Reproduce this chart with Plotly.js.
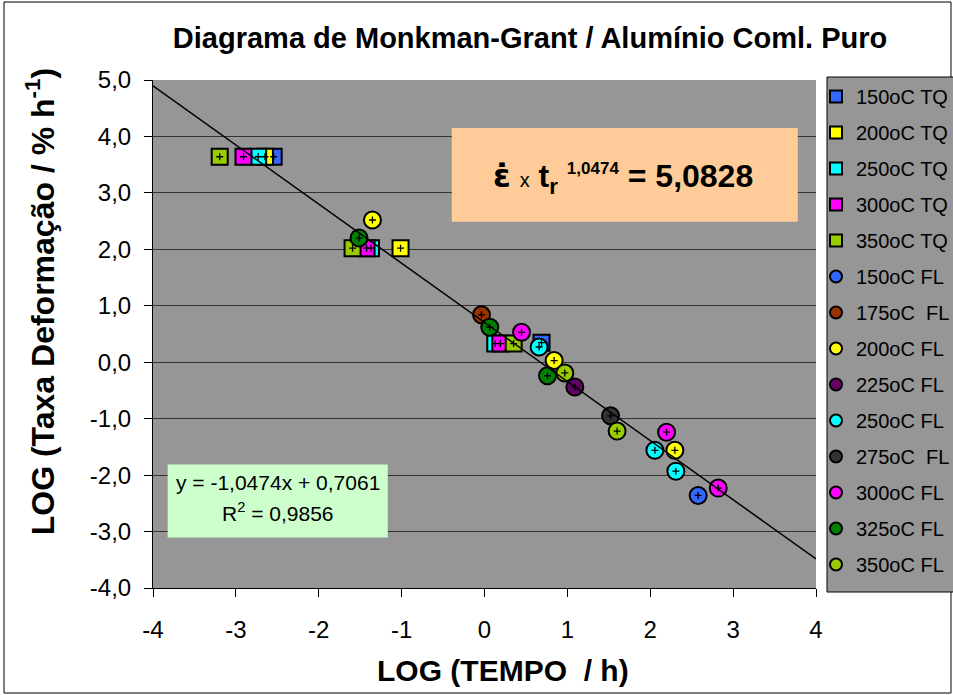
<!DOCTYPE html>
<html>
<head>
<meta charset="utf-8">
<script src="https://cdn.plot.ly/plotly-3.0.1.min.js"></script>
<style>
  html, body { margin: 0; padding: 0; background: #ffffff; overflow: hidden; }
  #wrap { width: 953px; height: 695px; overflow: hidden; position: relative; }
  #chart { width: 990px; height: 695px; }
</style>
</head>
<body>
<div id="wrap"><div id="chart"></div></div>
<script>
// ---- Data ----
const seriesNames = ["150oC TQ", "200oC TQ", "250oC TQ", "300oC TQ", "350oC TQ",
  "150oC FL", "175oC\u00a0 FL", "200oC FL", "225oC FL", "250oC FL",
  "275oC\u00a0 FL", "300oC FL", "325oC FL", "350oC FL"];
const seriesColors = ["#3366FF", "#FFFF00", "#00FFFF", "#FF00FF", "#99CC00",
  "#3366FF", "#993300", "#FFFF00", "#660066", "#00FFFF",
  "#333333", "#FF00FF", "#008000", "#99CC00"];
const seriesSymbols = ["square", "square", "square", "square", "square",
  "circle", "circle", "circle", "circle", "circle",
  "circle", "circle", "circle", "circle"];

const x150TQ = [-2.544, 0.688];
const y150TQ = [3.64, 0.347];
const x200TQ = [-2.649, -1.013];
const y200TQ = [3.64, 2.02];
const x250TQ = [-2.731, -1.370, 0.130];
const y250TQ = [3.64, 2.02, 0.33];
const x300TQ = [-2.908, -1.423, 0.191];
const y300TQ = [3.64, 2.02, 0.33];
const x350TQ = [-3.195, -1.592, 0.352];
const y350TQ = [3.64, 2.02, 0.33];
const x150FL = [2.578];
const y150FL = [-2.36];
const x175FL = [-0.036];
const y175FL = [0.84];
const x200FL = [-1.352, 0.840, 2.297];
const y200FL = [2.52, 0.03, -1.56];
const x225FL = [1.090];
const y225FL = [-0.44];
const x250FL = [0.659, 2.056, 2.309];
const y250FL = [0.27, -1.56, -1.93];
const x275FL = [1.521];
const y275FL = [-0.95];
const x300FL = [0.447, 2.197, 2.820];
const y300FL = [0.53, -1.24, -2.23];
const x325FL = [-1.514, 0.064, 0.760];
const y325FL = [2.20, 0.62, -0.24];
const x350FL = [0.969, 1.600];
const y350FL = [-0.19, -1.22];

const seriesX = [x150TQ, x200TQ, x250TQ, x300TQ, x350TQ, x150FL, x175FL, x200FL, x225FL, x250FL, x275FL, x300FL, x325FL, x350FL];
const seriesY = [y150TQ, y200TQ, y250TQ, y300TQ, y350TQ, y150FL, y175FL, y200FL, y225FL, y250FL, y275FL, y300FL, y325FL, y350FL];

// Linear trend line (from the chart's equation)
const trendSlope = -1.0474;
const trendIntercept = 0.7061;
const trendX = [-4, 4];

const xTicks = [-4, -3, -2, -1, 0, 1, 2, 3, 4];
const xTickText = ["-4", "-3", "-2", "-1", "0", "1", "2", "3", "4"];
const yTicks = [-4, -3, -2, -1, 0, 1, 2, 3, 4, 5];
const yTickText = ["-4,0", "-3,0", "-2,0", "-1,0", "0,0", "1,0", "2,0", "3,0", "4,0", "5,0"];

// ---- Build traces ----
const FONT = "Liberation Sans, Arial, Helvetica, sans-serif";
const traces = seriesNames.map((name, i) => ({
  type: "scatter",
  mode: "markers",
  name: name,
  legendgroup: "g" + i,
  x: seriesX[i],
  y: seriesY[i],
  marker: {
    symbol: seriesSymbols[i],
    size: seriesSymbols[i] === "square" ? 16 : 17,
    color: seriesColors[i],
    line: { color: "#000000", width: 2 }
  },
  hoverinfo: "x+y+name"
}));

traces.push({
  type: "scatter",
  mode: "lines",
  x: trendX,
  y: trendX.map(v => trendSlope * v + trendIntercept),
  line: { color: "#000000", width: 1.5 },
  showlegend: false,
  hoverinfo: "skip"
});

traces.push({
  type: "scatter",
  mode: "markers",
  x: [].concat(...seriesX),
  y: [].concat(...seriesY),
  marker: { symbol: "cross-thin", size: 5, color: "#000000", line: { color: "#000000", width: 1.3 } },
  showlegend: false,
  hoverinfo: "skip"
});

const layout = {
  width: 990,
  height: 695,
  margin: { l: 153, r: 174, t: 80, b: 107 },
  paper_bgcolor: "#ffffff",
  plot_bgcolor: "#969696",
  separators: ",.",
  font: { family: FONT, color: "#000000" },
  showlegend: true,
  title: {
    text: "<b>Diagrama de Monkman-Grant / Alumínio Coml. Puro</b>",
    font: { family: FONT, size: 29, color: "#000000" },
    x: 0.5354, xref: "container", xanchor: "center",
    y: 0.945, yref: "container", yanchor: "middle"
  },
  xaxis: {
    range: [-4, 4],
    tickvals: xTicks,
    ticktext: xTickText,
    showgrid: false,
    zeroline: false,
    showline: true,
    linecolor: "#000000",
    linewidth: 1,
    ticks: "outside",
    ticklen: 8,
    tickcolor: "#000000",
    ticklabelstandoff: 12,
    tickfont: { family: FONT, size: 24, color: "#000000" },
    automargin: false,
    fixedrange: true
  },
  yaxis: {
    range: [-4, 5],
    tickvals: yTicks,
    ticktext: yTickText,
    showgrid: true,
    gridcolor: "#333333",
    gridwidth: 1,
    zeroline: false,
    showline: true,
    linecolor: "#000000",
    linewidth: 1,
    ticks: "outside",
    ticklen: 8,
    tickcolor: "#000000",
    ticklabelstandoff: 8,
    tickfont: { family: FONT, size: 24, color: "#000000" },
    automargin: false,
    fixedrange: true
  },
  legend: {
    x: 1.0, xanchor: "left",
    y: 1.006, yanchor: "top",
    bgcolor: "rgba(0,0,0,0)",
    borderwidth: 0,
    font: { family: FONT, size: 20, color: "#000000" },
    itemsizing: "constant",
    tracegroupgap: 7,
    traceorder: "grouped",
    maxheight: 680
  },
  shapes: [
    { type: "rect", xref: "paper", yref: "paper", x0: -0.2247, x1: 1.2036, y0: -0.2067, y1: 1.1535,
      fillcolor: "rgba(0,0,0,0)", line: { color: "#000000", width: 1 }, layer: "below" },
    { type: "rect", xref: "x", yref: "y", x0: -0.395, x1: 3.78, y0: 2.487, y1: 4.15,
      fillcolor: "#FFCC99", line: { width: 0 }, layer: "above" },
    { type: "rect", xref: "x", yref: "y", x0: -3.823, x1: -1.167, y0: -3.106, y1: -1.814,
      fillcolor: "#CCFFCC", line: { width: 0 }, layer: "above" },
    { type: "rect", xref: "paper", yref: "paper", x0: 1.0166, x1: 1.30, y0: -0.0079, y1: 1.0059,
      fillcolor: "#969696", line: { color: "#000000", width: 1 }, layer: "above" }
  ],
  annotations: [
    { xref: "x", yref: "y", x: 1.669, y: 3.27, showarrow: false, xanchor: "center", yanchor: "middle",
      text: "<span style='font-family:DejaVu Sans'><b>\u03B5\u0307</b></span> <span style='font-size:20px'>x</span> <b>t<sub>r</sub></b> <b><sup><span style='font-size:17px'>1,0474</span></sup> = 5,0828</b>",
      font: { family: FONT, size: 32, color: "#000000" } },
    { xref: "x", yref: "y", x: -2.493, y: -2.13, showarrow: false, xanchor: "center", yanchor: "middle",
      text: "y = -1,0474x + 0,7061", font: { family: FONT, size: 21, color: "#000000" } },
    { xref: "x", yref: "y", x: -2.493, y: -2.65, showarrow: false, xanchor: "center", yanchor: "middle",
      text: "R<sup>2</sup> = 0,9856", font: { family: FONT, size: 21, color: "#000000" } },
    { xref: "paper", yref: "paper", x: 0.528, y: -0.163, showarrow: false, xanchor: "center", yanchor: "middle",
      text: "<b>LOG (TEMPO\u00a0 / h)</b>", font: { family: FONT, size: 30, color: "#000000" } },
    { xref: "paper", yref: "paper", x: -0.170, y: 0.563, showarrow: false, xanchor: "center", yanchor: "middle",
      textangle: -90,
      text: "<b>LOG (Taxa Deformação / % h<sup>-1</sup>)</b>", font: { family: FONT, size: 32, color: "#000000" } }
  ]
};

Plotly.newPlot("chart", traces, layout, { displayModeBar: false });
</script>
</body>
</html>
